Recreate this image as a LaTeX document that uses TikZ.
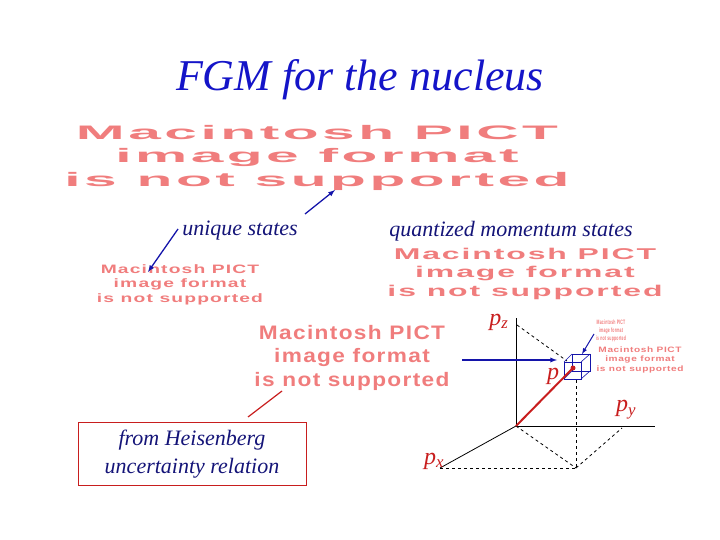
\documentclass[tikz,border=0pt]{standalone}
\usepackage{fontspec}
\setmainfont{Liberation Serif}
\newfontfamily\pictfont[LetterSpace=6]{Liberation Sans}
\definecolor{ttl}{RGB}{20,20,200}
\definecolor{lbl}{RGB}{20,20,120}
\definecolor{pink}{RGB}{240,125,125}
\definecolor{dred}{RGB}{200,30,30}
\definecolor{arr}{RGB}{20,20,170}
\newcommand{\pict}[2]{\resizebox{#1pt}{#2pt}{\pictfont\bfseries\color{pink}\begin{tabular}{@{}c@{}}Macintosh PICT\\ image format\\ is not supported\end{tabular}}}
\begin{document}
\begin{tikzpicture}[x=1pt,y=-1pt,
  ph/.style={inner sep=0pt},
  lab/.style={font=\fontsize{22}{25}\selectfont\itshape, text=lbl, inner sep=0pt},
  plab/.style={font=\fontsize{24}{26}\selectfont\itshape, text=dred, inner sep=0pt},
  barr/.style={draw=arr, line width=1.3pt, -latex},
  ax/.style={black, line width=0.8pt},
  dsh/.style={black, dashed, line width=0.8pt}]
\useasboundingbox (0,0) rectangle (720,540);
\node[font=\fontsize{44}{48}\selectfont\itshape, text=ttl] (title) at (360,80) {FGM for the nucleus};
\node[ph] (big) at (317,158) {\pict{505}{40}};
\node[lab] (uniq) at (240,231) {unique states};
\node[lab] (quant) at (511,231) {quantized momentum states};
\node[ph] (small) at (180,285) {\pict{166}{25}};
\node[ph] (mid) at (525,274) {\pict{275}{32}};
\node[ph] (cen) at (352,358) {\pict{195}{40}};
\node[ph] (tiny) at (611,331) {\pict{30}{13}};
\node[ph] (rgt) at (640,360) {\pict{87}{16}};
\node[draw=dred, line width=1pt, minimum width=228pt, minimum height=63pt, align=center,
  font=\fontsize{22}{28}\selectfont\itshape, text=lbl, inner sep=0pt] (heis) at (192,454) {from Heisenberg\\uncertainty relation};
\coordinate (u1) at (178,229); \coordinate (u2) at (148,272);
\draw[barr] (u1) -- (u2);
\coordinate (v1) at (305,214); \coordinate (v2) at (335,190);
\draw[barr] (v1) -- (v2);
\coordinate (h1) at (248,417); \coordinate (h2) at (282,391);
\draw[dred, line width=1.2pt] (h1) -- (h2);
\coordinate (O) at (516,426);
\coordinate (Z) at (516,318);
\coordinate (Y) at (655,426);
\coordinate (X) at (440,468);
\coordinate (Zt) at (517,325);
\coordinate (P) at (573,368);
\coordinate (B) at (576,468);
\coordinate (Yt) at (622,428);
\draw[ax] (O) -- (Z);
\draw[ax] (O) -- (Y);
\draw[ax] (O) -- (X);
\draw[dsh] (Zt) -- (567,361);
\draw[dsh] (576,380) -- (B);
\draw[dsh] (O) -- (B);
\draw[dsh] (B) -- (Yt);
\draw[dsh] (X) -- (B);
\draw[draw=arr, line width=0.6pt] (564,362) rectangle (581,379);
\draw[draw=arr, line width=0.6pt] (572,354) rectangle (590,371);
\draw[draw=arr, line width=0.6pt] (564,362) -- (572,354) (581,362) -- (590,354) (564,379) -- (572,371) (581,379) -- (590,371);
\draw[dred, line width=2pt] (O) -- (P);
\fill[dred] (P) circle (2.5);
\coordinate (a1) at (462,360); \coordinate (a2) at (557,360);
\draw[barr] (a1) -- (a2);
\coordinate (t1) at (594,334); \coordinate (t2) at (582,354);
\draw[barr, line width=1pt] (t1) -- (t2);
\node[plab] (pz) at (499,322) {p\textsubscript{z}};
\node[plab] (p) at (553,376) {p};
\node[plab] (py) at (626,410) {p\textsubscript{y}};
\node[plab] (px) at (434,461) {p\textsubscript{x}};
\end{tikzpicture}
\end{document}
